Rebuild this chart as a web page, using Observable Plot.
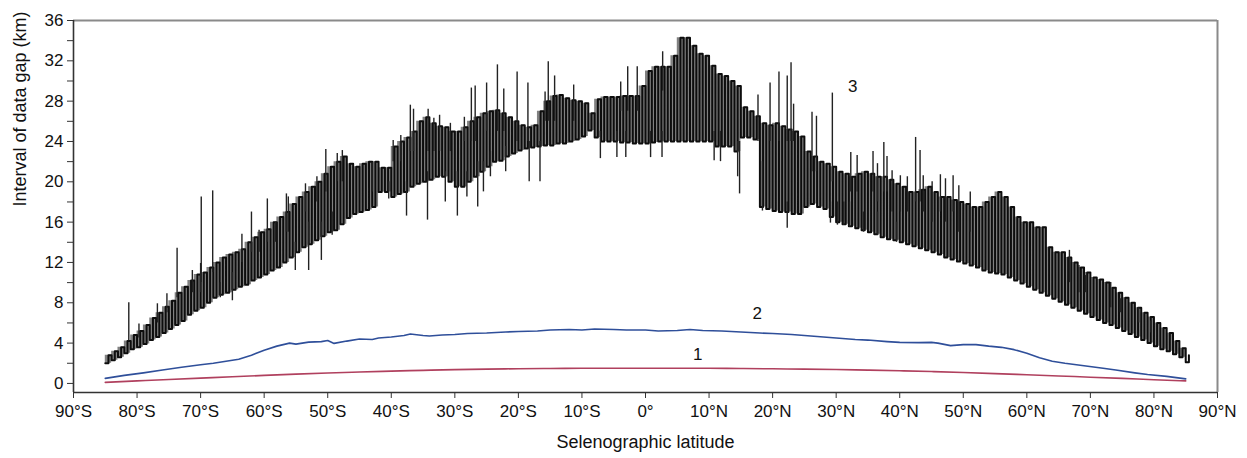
<!DOCTYPE html>
<html><head><meta charset="utf-8">
<script src="https://cdn.jsdelivr.net/npm/d3@7"></script>
<script src="https://cdn.jsdelivr.net/npm/@observablehq/plot@0.6"></script>
<style>body{margin:0;background:#fff}</style>
</head><body><div id="chart"></div>
<script>
// Series 3: per-degree band (low / high), latitudes -85..85
const s3Lat = d3.range(-85, 86);
const s3Low = [
  2.0, 2.3, 2.6, 3.0, 3.4, 3.6, 3.9, 4.3, 4.6, 5.0,
  5.4, 5.8, 6.2, 6.8, 7.2, 7.5, 8.0, 8.5, 8.8, 9.0,
  9.3, 9.6, 9.8, 10.2, 10.5, 10.8, 11.2, 11.5, 12.0, 12.5,
  13.0, 13.5, 13.8, 14.2, 14.6, 15.0, 15.2, 15.8, 16.4, 16.8,
  17.0, 17.2, 17.5, 19.0, 19.0, 18.5, 18.8, 19.0, 19.5, 19.8,
  20.0, 20.2, 20.5, 20.5, 20.0, 19.5, 19.5, 20.0, 20.5, 21.0,
  21.5, 22.0, 22.1, 22.5, 22.8, 23.1, 23.3, 23.4, 23.5, 23.6,
  23.6, 23.8, 23.8, 24.0, 24.2, 24.5, 25.1, 24.4, 24.0, 24.0,
  24.0, 23.9, 23.9, 23.8, 23.8, 23.8, 23.9, 24.0, 24.0, 24.0,
  24.0, 24.0, 24.0, 24.0, 24.0, 24.0, 23.5, 23.5, 23.5, 23.0,
  24.4, 24.4, 24.2, 17.5, 17.3, 17.1, 17.0, 17.0, 16.8, 16.8,
  17.5, 17.8, 17.5, 17.3, 16.5, 16.0, 15.8, 15.6, 15.4, 15.2,
  15.0, 14.8, 14.5, 14.3, 14.2, 14.0, 13.8, 13.6, 13.4, 13.2,
  13.0, 12.8, 12.5, 12.3, 12.1, 11.9, 11.7, 11.5, 11.2, 11.0,
  10.9, 10.8, 10.5, 10.2, 9.9, 9.6, 9.3, 9.0, 8.7, 8.4,
  8.1, 7.8, 7.5, 7.2, 6.9, 6.6, 6.3, 6.0, 5.8, 5.5,
  5.2, 4.9, 4.6, 4.3, 4.0, 3.7, 3.4, 3.2, 2.9, 2.6,
  2.1
];
const s3High = [
  2.8, 3.2, 3.6, 4.2, 4.8, 5.2, 5.8, 6.5, 7.0, 7.6,
  8.2, 9.0, 9.6, 10.2, 10.8, 11.0, 11.5, 12.0, 12.5, 12.8,
  13.0, 13.3, 14.0, 14.5, 15.0, 15.3, 16.0, 16.5, 17.0, 17.8,
  18.5, 19.0, 19.5, 20.0, 20.8, 21.5, 22.0, 22.5, 21.8, 21.5,
  21.8, 22.0, 22.0, 21.4, 21.4, 23.5, 24.0, 24.4, 25.0, 26.0,
  26.4, 25.8, 25.5, 25.4, 25.0, 25.0, 25.4, 26.0, 26.4, 26.8,
  27.0, 27.1, 26.8, 26.4, 26.0, 25.6, 25.4, 25.6, 27.0, 28.0,
  28.5, 28.6, 28.3, 28.1, 28.0, 27.8, 26.8, 28.2, 28.4, 28.4,
  28.4, 28.5, 28.5, 28.5, 29.5, 31.0, 31.4, 31.4, 31.4, 32.5,
  34.3, 34.3, 33.5, 32.7, 32.5, 31.5, 30.7, 30.5, 30.0, 29.5,
  27.4, 27.0, 26.5, 25.8, 25.6, 25.8, 25.5, 25.2, 25.0, 24.5,
  23.0, 22.5, 22.0, 21.8, 21.5, 21.0, 20.8, 20.5, 20.8, 21.0,
  20.8, 20.5, 20.5, 20.2, 19.8, 19.5, 19.0, 19.0, 19.2, 19.5,
  19.0, 18.5, 18.5, 18.2, 18.0, 17.8, 17.5, 17.5, 18.0, 18.5,
  19.0, 18.5, 17.5, 16.5, 16.0, 16.0, 15.5, 15.5, 13.5, 13.0,
  13.0, 12.5, 12.0, 11.5, 11.0, 10.5, 10.3, 10.0, 9.5, 9.0,
  8.5, 8.0, 7.5, 7.0, 6.6, 6.0, 5.5, 5.0, 4.2, 3.5,
  2.8
];
// Series 3: isolated spikes (latitude, start value, end value)
const spikeLat  = [-81.3,-73.7,-69.9,-68.1,-62.0,-59.5,-56.5,-53.0,-51.0,-50.3,-48.5,-37.6,-37.0,-36.5,-34.3,-29.6,-27.4,-26.8,-26.4,-25.0,-23.3,-22.3,-20.2,-18.5,-18.3,-16.6,-15.8,-15.3,-14.3,-11.3,-7.1,-4.5,-3.9,-3.1,-2.8,-1.3,0.8,2.6,2.7,10.8,11.8,14.5,14.8,17.7,18.4,19.6,21.0,22.3,22.3,22.9,23.3,26.2,26.9,29.1,29.4,32.3,33.3,35.8,37.5,38.0,42.5,43.2,46.4,48.4,
  -79.7,-76.8,-75.3,-71.3,-70.0,-66.9,-65.0,-63.5,-60.8,-58.2,-56.2,-55.1,-53.5,-51.7,-47.7,-49.3,-43.0,-40.4,-39.7,-38.5,-34.2,-33.3,-32.4,-31.5,-30.7,-28.5,-28.1,-25.5,-24.4,-22.0,
  30.2,31.2,32.1,34.3,36.5,39.5,40.1,41.2,38.8,43.7,45.1,47.2,49.3,51.1,36.5,66.7,68.2,69.2,73.2,74.7,77.6,79.5];
const spikeFrom = [4.2,8.5,10.0,11.0,13.0,14.0,15.0,16.0,16.0,19.0,20.0,20.0,23.0,23.0,21.0,21.0,24.0,24.0,22.0,25.0,25.0,25.0,24.0,24.0,24.0,24.0,26.0,26.0,26.0,26.0,25.0,25.0,27.0,25.0,27.0,27.0,25.0,25.0,29.0,25.0,25.0,24.0,24.0,24.0,22.0,24.0,24.0,24.0,18.0,24.0,24.0,21.0,21.0,18.0,20.0,19.0,19.0,19.0,19.0,19.0,18.0,18.0,17.0,17.0,
  4.5,6.0,7.0,9.0,9.0,10.0,11.0,12.0,13.0,14.0,15.0,14.0,17.0,18.0,20.0,17.0,19.0,20.0,22.0,22.0,23.0,23.0,23.0,21.0,23.0,24.0,21.0,22.0,23.0,23.5,
  18.0,18.0,18.0,17.0,17.0,16.0,17.0,17.0,17.0,17.0,16.0,16.0,15.0,15.0,18.0,10.0,9.0,9.0,7.5,7.0,6.0,5.0];
const spikeTo   = [8.0,13.4,18.5,19.1,17.0,18.3,18.8,11.2,12.2,23.2,22.8,16.6,27.6,27.2,16.2,16.6,29.3,29.5,17.5,29.8,31.6,29.2,30.9,29.8,20.0,20.0,28.9,31.9,30.5,29.6,22.3,22.4,29.9,22.4,31.4,31.4,22.4,22.4,32.9,22.1,22.0,20.5,18.8,28.6,17.1,29.8,30.9,30.5,15.4,31.8,27.7,26.9,26.5,15.9,28.8,22.9,22.6,23.0,23.9,22.5,24.4,23.1,20.7,20.6,
  5.9,7.9,8.9,11.2,11.9,8.5,8.2,14.8,15.2,16.0,18.5,11.2,19.8,20.5,23.1,14.7,21.9,18.3,24.1,24.6,27.2,26.3,26.6,18.0,25.8,26.4,18.5,19.0,20.5,21.0,
  15.7,15.7,15.5,15.0,14.7,14.0,20.6,20.5,21.1,20.6,20.0,20.3,19.6,19.0,21.8,13.2,11.7,10.7,10.0,8.4,7.5,6.2];

// Series 2 (blue)
const s2Lat = [-85,-82,-79,-76,-73,-70,-68,-66,-64,-62,-60,-58,-56,-55,-53,-51,-50,-49,-47,-45,-43,-42,-40,-38,-37,-35,-34,-32,-30,-28,-25,-22,-20,-17,-15,-12,-10,-8,-5,-3,0,2,5,7,9,12,15,18,20,23,25,28,30,33,35,38,40,43,45,46,48,50,52,54,56,58,60,62,64,66,69,72,74,77,79,82,85];
const s2Val = [0.5,0.8,1.05,1.33,1.6,1.85,2.0,2.2,2.4,2.8,3.3,3.7,4.0,3.9,4.1,4.15,4.25,3.97,4.2,4.4,4.35,4.5,4.6,4.75,4.9,4.75,4.7,4.8,4.85,4.95,5.0,5.1,5.15,5.2,5.3,5.35,5.3,5.4,5.35,5.3,5.3,5.2,5.25,5.35,5.25,5.2,5.1,5.0,4.95,4.85,4.75,4.6,4.5,4.35,4.3,4.15,4.07,4.05,4.07,4.0,3.75,3.85,3.85,3.7,3.58,3.35,3.0,2.55,2.2,2.0,1.76,1.5,1.33,1.05,0.88,0.7,0.45];

// Series 1 (red)
const s1Lat = [-85,-80,-75,-70,-65,-60,-55,-50,-45,-40,-35,-30,-25,-20,-15,-10,-5,0,5,10,15,20,25,30,35,40,45,50,55,60,65,70,75,80,85];
const s1Val = [0.1,0.25,0.4,0.53,0.66,0.8,0.92,1.03,1.13,1.22,1.3,1.37,1.42,1.46,1.49,1.5,1.51,1.51,1.51,1.5,1.48,1.45,1.42,1.38,1.32,1.26,1.18,1.08,0.98,0.86,0.74,0.62,0.5,0.37,0.25];

// Curve labels
const curveLabels = ["1", "2", "3"];
const curveLabelLat = [8.2, 17.6, 32.6];
const curveLabelVal = [2.85, 6.9, 29.4];

// Ticks
const xTicks = [-90,-80,-70,-60,-50,-40,-30,-20,-10,0,10,20,30,40,50,60,70,80,90];
const xTickLabels = ["90°S","80°S","70°S","60°S","50°S","40°S","30°S","20°S","10°S","0°","10°N","20°N","30°N","40°N","50°N","60°N","70°N","80°N","90°N"];
const yTicks = [0,4,8,12,16,20,24,28,32,36];
const yMinorTicks = [2,6,10,14,18,22,26,30,34];

const gapPts = s3Lat.flatMap((l, i) => [{x: l, y: s3Low[i]}, {x: l + 0.5, y: s3High[i]}]);
const band = s3Lat.map((l, i) => ({x: l, y1: s3Low[i], y2: s3High[i]}));
const spikes = spikeLat.map((l, i) => ({x: l, y1: spikeFrom[i], y2: spikeTo[i]}));
const blue = s2Lat.map((l, i) => ({x: l, y: s2Val[i]}));
const red = s1Lat.map((l, i) => ({x: l, y: s1Val[i]}));
const labels = curveLabels.map((t, i) => ({t, x: curveLabelLat[i], y: curveLabelVal[i]}));

const chart = Plot.plot({
  width: 1247, height: 458,
  marginLeft: 73, marginRight: 30, marginTop: 20, marginBottom: 66,
  style: {fontFamily: "'Liberation Sans', Arial, sans-serif", fontSize: "17px", color: "#000", background: "#fff", overflow: "visible"},
  x: {domain: [-90, 90]},
  y: {domain: [-0.9, 36]},
  marks: [
    Plot.ruleY([36], {stroke: "#8a8a8a", strokeWidth: 2}),
    Plot.ruleX([90], {stroke: "#8a8a8a", strokeWidth: 2}),
    Plot.areaY(band, {x: "x", y1: "y1", y2: "y2", curve: "step-after", fill: "#1a1a1a", fillOpacity: 0.55}),
    Plot.line(gapPts, {x: "x", y: "y", curve: "step-after", stroke: "#0d0d0d", strokeWidth: 2}),
    Plot.ruleX(spikes, {x: "x", y1: "y1", y2: "y2", stroke: "#222", strokeWidth: 1.4}),
    Plot.line(blue, {x: "x", y: "y", stroke: "#2f4f9a", strokeWidth: 1.6}),
    Plot.line(red, {x: "x", y: "y", stroke: "#b0405e", strokeWidth: 1.6, curve: "basis"}),
    Plot.text(labels, {x: "x", y: "y", text: "t", fontSize: 17, fill: "#111"}),
    Plot.axisX({ticks: xTicks, tickFormat: d => xTickLabels[xTicks.indexOf(d)], tickSize: 6, tickPadding: 6, label: null, stroke: "#333", fill: "#111"}),
    Plot.axisY({ticks: yTicks, tickSize: 6, tickPadding: 4, label: null, stroke: "#333", fill: "#111"}),
    Plot.axisY({ticks: yMinorTicks, tickSize: 6, tickFormat: () => "", label: null, stroke: "#333"}),
    Plot.ruleX([-90], {stroke: "#333", strokeWidth: 1.6}),
    Plot.ruleY([-0.9], {stroke: "#333", strokeWidth: 1.6}),
    Plot.text(["Interval of data gap (km)"], {text: d => d, frameAnchor: "left", dx: -53, rotate: -90, fontSize: 18, fill: "#111"}),
    Plot.text(["Selenographic latitude"], {text: d => d, frameAnchor: "bottom", dy: 55, fontSize: 18, fill: "#111"})
  ]
});
document.getElementById("chart").append(chart);
</script>
</body></html>
